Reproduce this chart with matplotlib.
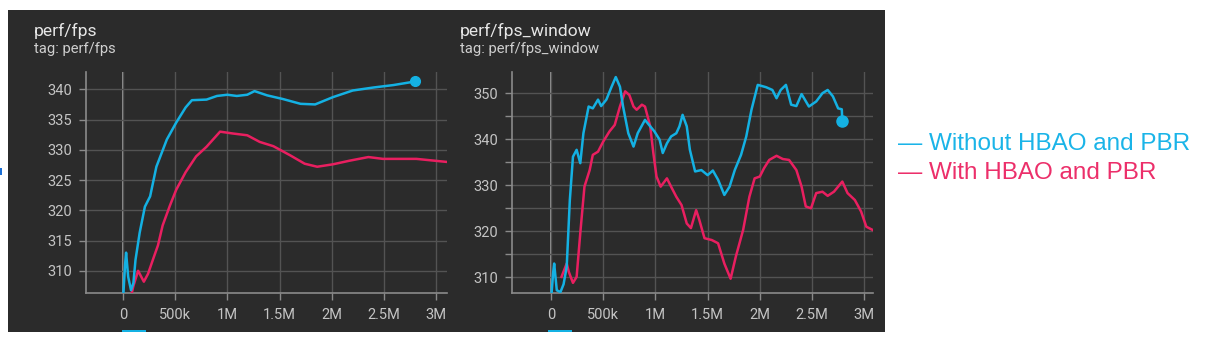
import matplotlib
matplotlib.use('Agg')
import matplotlib.pyplot as plt
from matplotlib.patches import Rectangle

W, H = 1226, 340

# perf/fps, steps in millions
fps_blue_x = [0.0, 0.02, 0.03, 0.05, 0.077, 0.1, 0.12, 0.16, 0.21, 0.26, 0.32, 0.42, 0.51, 0.6, 0.66,
              0.8, 0.9, 1.0, 1.09, 1.19, 1.26, 1.38, 1.53, 1.7, 1.84, 2.01, 2.2, 2.4, 2.59, 2.8]
fps_blue_y = [305, 311, 313, 309, 306.8, 308, 311.8, 316.3, 320.6, 322.3, 327.2, 331.7, 334.5, 337, 338.2,
              338.3, 338.9, 339.1, 338.9, 339.1, 339.7, 339.0, 338.4, 337.6, 337.5, 338.7, 339.8, 340.3, 340.7, 341.3]
fps_pink_x = [0.08, 0.1, 0.145, 0.2, 0.24, 0.29, 0.335, 0.38, 0.45, 0.51, 0.6, 0.7, 0.8, 0.93, 1.05, 1.19,
              1.31, 1.44, 1.6, 1.74, 1.86, 2.01, 2.17, 2.35, 2.49, 2.81, 3.04, 3.1]
fps_pink_y = [306, 307.5, 310.0, 308.2, 309.5, 312, 314.2, 317.5, 320.8, 323.4, 326.3, 328.9, 330.5, 333.0,
              332.7, 332.4, 331.3, 330.6, 329.1, 327.7, 327.2, 327.6, 328.2, 328.8, 328.5, 328.5, 328.1, 328.0]

# perf/fps_window
win_blue_x = [0.0, 0.02, 0.03, 0.055, 0.09, 0.12, 0.15, 0.18, 0.21, 0.245, 0.28, 0.31, 0.36, 0.40, 0.45, 0.48,
              0.53, 0.58, 0.62, 0.66, 0.69, 0.74, 0.79, 0.83, 0.90, 0.95, 0.99, 1.04, 1.07, 1.11, 1.15, 1.20,
              1.23, 1.26, 1.30, 1.33, 1.38, 1.44, 1.50, 1.55, 1.60, 1.66, 1.71, 1.76, 1.82, 1.87, 1.92, 1.98,
              2.06, 2.12, 2.16, 2.20, 2.25, 2.30, 2.35, 2.40, 2.47, 2.54, 2.60, 2.65, 2.70, 2.75, 2.785, 2.79]
win_blue_y = [305, 311, 313, 307.2, 306.8, 308.5, 312.3, 326.8, 336.2, 337.7, 334.8, 341.3, 347.1, 346.7, 348.6,
              347.2, 348.6, 351.4, 353.5, 351.4, 347.1, 341.3, 338.4, 341.3, 344.2, 342.8, 341.7, 339.9, 337.0,
              339.1, 340.6, 341.3, 342.8, 345.3, 342.8, 337.7, 333.0, 333.3, 332.2, 333.2, 331.2, 327.9, 329.7,
              333.3, 336.6, 340.6, 346.4, 351.8, 351.3, 350.7, 348.9, 350.7, 351.8, 347.5, 347.2, 349.8, 347.1,
              348.2, 350.0, 350.7, 349.3, 346.7, 346.5, 344.0]
win_pink_x = [0.10, 0.15, 0.17, 0.21, 0.245, 0.28, 0.32, 0.37, 0.40, 0.45, 0.50, 0.56, 0.61, 0.66, 0.71, 0.75,
              0.79, 0.82, 0.87, 0.90, 0.95, 0.98, 1.01, 1.05, 1.11, 1.15, 1.20, 1.25, 1.30, 1.34, 1.39, 1.42,
              1.47, 1.54, 1.60, 1.66, 1.72, 1.77, 1.84, 1.90, 1.95, 2.00, 2.04, 2.09, 2.16, 2.22, 2.28, 2.35,
              2.40, 2.44, 2.49, 2.54, 2.60, 2.65, 2.71, 2.79, 2.84, 2.91, 2.97, 3.02, 3.08]
win_pink_y = [310.1, 313, 311.2, 308.8, 310.1, 319.6, 329.7, 333.3, 336.6, 337.3, 339.5, 341.7, 343.1, 347.1,
              350.4, 349.6, 347.1, 346.4, 347.5, 347.1, 342.8, 337.0, 331.9, 329.7, 331.5, 329.7, 327.5, 325.7,
              321.7, 320.7, 324.6, 322.5, 318.5, 318.1, 317.4, 313.0, 309.7, 314.5, 320.3, 327.5, 331.5, 331.9,
              333.7, 335.5, 336.4, 335.7, 335.5, 333.3, 329.7, 325.4, 325.0, 328.3, 328.6, 327.7, 328.6, 330.8,
              328.3, 326.8, 324.3, 321.0, 320.3]

x_ticks = [0, 0.5, 1, 1.5, 2, 2.5, 3]
x_labels = ['0', '500k', '1M', '1.5M', '2M', '2.5M', '3M']
legend_labels = ['Without HBAO and PBR', 'With HBAO and PBR']

BLUE = '#14b1e3'
PINK = '#e91f60'
BG = '#2b2b2b'
GRID = '#535353'
TXT = '#c4c4c4'

plt.rcParams['font.family'] = ['Roboto', 'DejaVu Sans']

fig = plt.figure(figsize=(W / 100, H / 100), dpi=100)
fig.patch.set_facecolor('white')
fig.patches.append(Rectangle((8 / W, 1 - 332 / H), 877 / W, 322 / H, transform=fig.transFigure,
                             facecolor=BG, edgecolor='none', zorder=-10))


def setup(ax, lims, yticks, ylabels):
    ax.set_facecolor('none')
    ax.set_xlim(*lims[0])
    ax.set_ylim(*lims[1])
    ax.set_xticks(x_ticks)
    ax.set_xticklabels(x_labels)
    ax.set_yticks(yticks)
    ax.set_yticklabels(ylabels)
    for s in ['top', 'right']:
        ax.spines[s].set_visible(False)
    for s in ['left', 'bottom']:
        ax.spines[s].set_color('#8a8a8a')
        ax.spines[s].set_linewidth(1.2)
    ax.tick_params(colors='#8a8a8a', labelcolor=TXT, labelsize=10.5, length=5, width=1)
    ax.tick_params(axis='x', pad=6)
    ax.tick_params(axis='y', pad=5)
    ax.grid(True, color=GRID, linewidth=1)
    ax.axvline(0, color='#a0a0a0', linewidth=1.3, zorder=1)


# left: perf/fps
ax1 = fig.add_axes([86 / W, 1 - 293 / H, 361 / W, 221 / H])
setup(ax1, ((-0.354, 3.103), (306.33, 342.86)), [310, 315, 320, 325, 330, 335, 340],
      ['310', '315', '320', '325', '330', '335', '340'])
ax1.plot(fps_pink_x, fps_pink_y, color=PINK, linewidth=1.8, zorder=3)
ax1.plot(fps_blue_x, fps_blue_y, color=BLUE, linewidth=1.8, zorder=4)
ax1.plot(fps_blue_x[-1], fps_blue_y[-1], 'o', color=BLUE, markersize=7, zorder=5)

# right: perf/fps_window
ax2 = fig.add_axes([512 / W, 1 - 293 / H, 361 / W, 221 / H])
setup(ax2, ((-0.374, 3.084), (306.6, 354.6)), [310, 315, 320, 325, 330, 335, 340, 345, 350],
      ['310', '', '320', '', '330', '', '340', '', '350'])
ax2.plot(win_pink_x, win_pink_y, color=PINK, linewidth=1.8, zorder=3)
ax2.plot(win_blue_x, win_blue_y, color=BLUE, linewidth=1.8, zorder=4)
ax2.plot(win_blue_x[-1], win_blue_y[-1], 'o', color=BLUE, markersize=8, zorder=5)

# titles
for x0, name in [(34, 'perf/fps'), (460, 'perf/fps_window')]:
    fig.text(x0 / W, 1 - 36 / H, name, color='#e6e6e6', fontsize=12.6)
    fig.text(x0 / W, 1 - 53 / H, 'tag: ' + name, color='#cfcfcf', fontsize=10.6)

# tensorboard run markers
for x0 in [122, 548]:
    fig.patches.append(Rectangle((x0 / W, 1 - 332 / H), 24 / W, 2 / H, transform=fig.transFigure,
                                 facecolor=BLUE, edgecolor='none', zorder=-5))
fig.patches.append(Rectangle((0, 1 - 175 / H), 2 / W, 7 / H, transform=fig.transFigure,
                             facecolor='#1a6fd6', edgecolor='none', zorder=-5))

# legend text
fig.text(898 / W, 1 - 150 / H, '\u2014 ' + legend_labels[0], color='#1ab4e8', fontsize=17.5,
         family=['Liberation Sans', 'DejaVu Sans'])
fig.text(898 / W, 1 - 179 / H, '\u2014 ' + legend_labels[1], color='#ec2f6a', fontsize=17.5,
         family=['Liberation Sans', 'DejaVu Sans'])

fig.savefig('out.png', dpi=100)
